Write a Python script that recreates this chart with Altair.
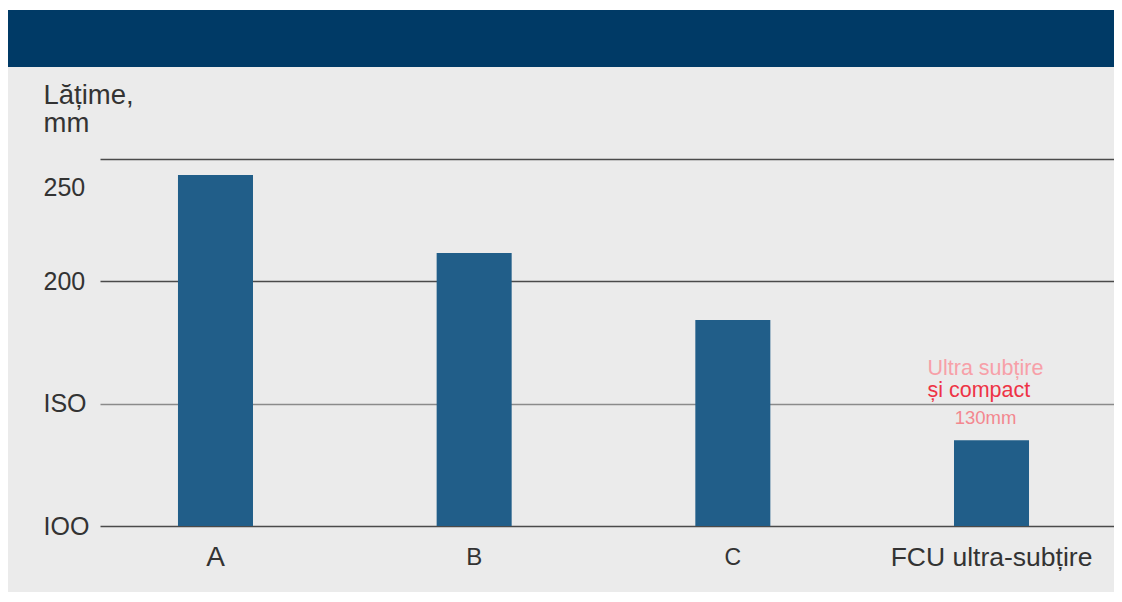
import altair as alt
import pandas as pd

categories = ["A", "B", "C", "FCU ultra-subțire"]
widths_mm = [243.5, 211.6, 184.2, 135.0]
y_ticks = [100, 150, 200, 250]
y_tick_labels = ["IOO", "ISO", "200", "250"]
y_title = ["Lățime,", "mm"]
note_line1 = "Ultra subțire"
note_line2 = "și compact"
note_line3 = "130mm"

df = pd.DataFrame({"cat": categories, "val": widths_mm})

W, H = 1014, 367
PAD = {"left": 92, "top": 151, "right": 0, "bottom": 66}
FONT = "Liberation Sans"
TXT = "#333333"

label_map = "{" + ",".join(f"'{v}':'{l}'" for v, l in zip(y_ticks, y_tick_labels)) + "}"

one = alt.Data(values=[{}])

top_strip = alt.Chart(one).mark_rect(color="white").encode(
    x=alt.value(-PAD["left"]), x2=alt.value(W + PAD["right"]),
    y=alt.value(-PAD["top"]), y2=alt.value(-PAD["top"] + 2)
)
header = alt.Chart(one).mark_rect(color="#003a66").encode(
    x=alt.value(-PAD["left"]), x2=alt.value(W + PAD["right"]),
    y=alt.value(-PAD["top"] + 2), y2=alt.value(-92)
)

xscale = alt.Scale(paddingInner=0.71, paddingOuter=0.315, align=0.4785)
yscale = alt.Scale(domain=[100, 250], zero=False, nice=False)

bars = alt.Chart(df).mark_bar(color="#215e89").encode(
    x=alt.X("cat:N", sort=categories, scale=xscale, axis=alt.Axis(
        title=None, domain=False, ticks=False, grid=False, labelAngle=0, labelLimit=0,
        labelFont=FONT, labelColor=TXT, labelBaseline="middle", labelPadding=31,
        labelFontSize={"condition": [
            {"test": "datum.value === 'A'", "value": 28},
            {"test": "datum.value === 'FCU ultra-subțire'", "value": 26.5},
            {"test": "datum.value === 'C'", "value": 23}], "value": 24},
    )),
    y=alt.Y("val:Q", scale=yscale, axis=alt.Axis(
        values=y_ticks, labelExpr=f"{label_map}[datum.value]",
        title=y_title, titleAngle=0, titleAlign="left", titleBaseline="alphabetic",
        titleX=-57, titleY=-56, titleFont=FONT, titleFontSize=27.5, titleFontWeight="normal",
        titleColor=TXT, titleLineHeight=28,
        domain=False, ticks=False, tickSize=0, labelAlign="left", labelPadding=57,
        labelBaseline="middle", labelFont=FONT, labelFontSize=25, labelColor=TXT,
        labelOffset={"condition": {"test": "datum.value === 250", "value": 28}, "value": 0},
        grid=True, gridWidth=1.5,
        gridColor={"condition": {"test": "datum.value === 150", "value": "#8a8a8a"}, "value": "#4a4a4a"},
    )),
    y2=alt.datum(100),
)

fcu = alt.Chart(df).transform_filter(alt.datum.cat == categories[3])
enc = dict(x=alt.X("cat:N", sort=categories, scale=xscale), y=alt.Y("val:Q", scale=yscale))
t1 = fcu.mark_text(text=note_line1, align="left", baseline="alphabetic", dx=-64, dy=-65.5,
                   font=FONT, fontSize=21.5, color="#f7a0a8").encode(**enc)
t2 = fcu.mark_text(text=note_line2, align="left", baseline="alphabetic", dx=-64, dy=-43.5,
                   font=FONT, fontSize=21.5, color="#ee3345").encode(**enc)
t3 = fcu.mark_text(text=note_line3, align="center", baseline="alphabetic", dx=-6, dy=-16,
                   font=FONT, fontSize=18.5, color="#f3878f").encode(**enc)

chart = alt.layer(top_strip, header, bars, t1, t2, t3).properties(
    width=W, height=H, padding=PAD,
    autosize=alt.AutoSizeParams(type="none"),
    background="#ebebeb",
).configure_view(stroke=None, fill=None)

chart.save("out.html", embed_options={"renderer": "svg", "actions": False})
